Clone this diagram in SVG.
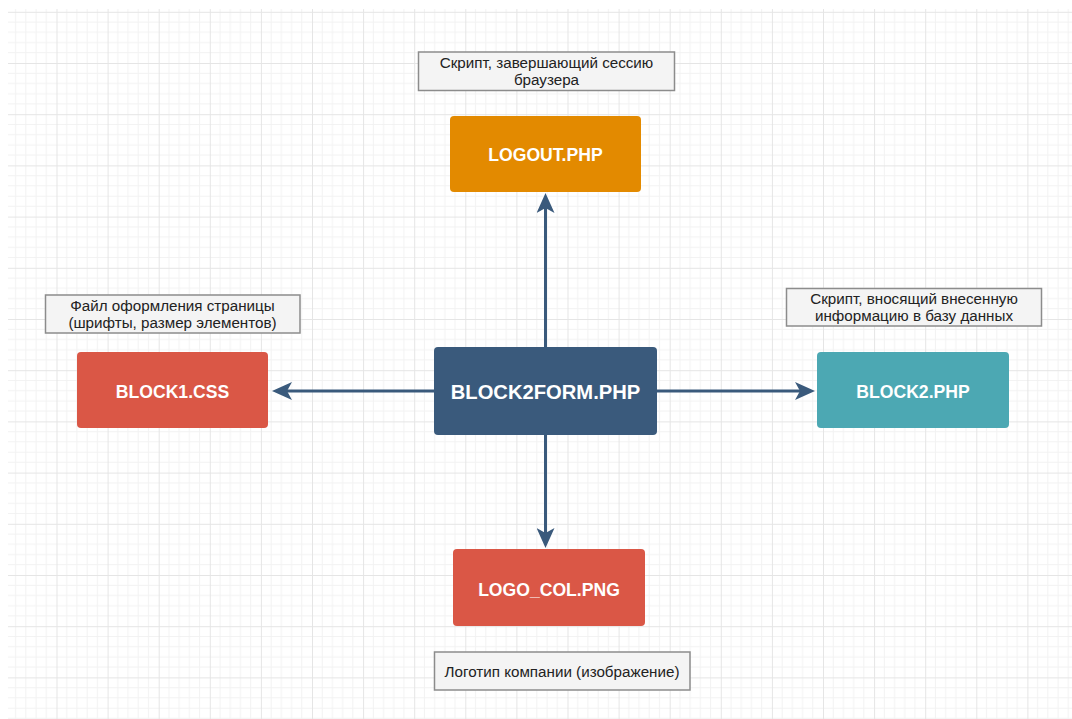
<svg xmlns="http://www.w3.org/2000/svg" width="1072" height="719" viewBox="0 0 1072 719">
  <style>
    .node rect { stroke: none; }
    .node text { font-family: "Liberation Sans", Arial, sans-serif; font-weight: bold; fill: #ffffff; text-anchor: middle; font-size: 17.6px; }
    .note rect { fill: #f4f4f4; stroke: #8c8c8c; stroke-width: 1.5; }
    .note text { font-family: "Liberation Sans", Arial, sans-serif; fill: #222222; text-anchor: middle; font-size: 15.2px; }
    .edge { stroke: #3a5a7c; stroke-width: 3; fill: none; marker-end: url(#arrow); }
  </style>
  <defs>
    <pattern id="grid" patternUnits="userSpaceOnUse" x="56.5" y="11.8" width="51.1" height="51.2">
      <g stroke="#f2f2f2" stroke-width="1">
        <path d="M10.22 0V51.2M20.44 0V51.2M30.66 0V51.2M40.88 0V51.2"/>
        <path d="M0 10.24H51.1M0 20.48H51.1M0 30.72H51.1M0 40.96H51.1"/>
      </g>
      <g stroke="#e5e5e5" stroke-width="1">
        <path d="M0.5 0V51.2M0 0.5H51.1"/>
      </g>
    </pattern>
    <marker id="arrow" viewBox="0 0 20 18" refX="10" refY="9" markerWidth="20" markerHeight="18" markerUnits="userSpaceOnUse" orient="auto">
      <path d="M0,0 L20,9 L0,18 L5,9 Z" fill="#3a5a7c"/>
    </marker>
  </defs>

  <rect width="1072" height="719" fill="#ffffff"/>
  <rect x="8" y="9" width="1064" height="710" fill="url(#grid)"/>

  <!-- connectors -->
  <g id="connectors">
    <line class="edge" x1="545.5" y1="347" x2="545.5" y2="203"/>
    <line class="edge" x1="434" y1="391" x2="282" y2="391"/>
    <line class="edge" x1="657" y1="391" x2="805" y2="391"/>
    <line class="edge" x1="545.5" y1="435" x2="545.5" y2="538"/>
  </g>

  <!-- central page -->
  <g id="block2form" class="node">
    <rect x="434" y="347" width="223" height="88" rx="4" fill="#3a5a7c"/>
    <text x="545.5" y="398.5" style="font-size:20.2px">BLOCK2FORM.PHP</text>
  </g>

  <g id="logout" class="node">
    <rect x="450" y="116" width="191" height="76" rx="4" fill="#e38a00"/>
    <text x="545.5" y="160.5">LOGOUT.PHP</text>
  </g>

  <g id="block1css" class="node">
    <rect x="77" y="352" width="191" height="76" rx="4" fill="#da5746"/>
    <text x="172.5" y="397.5">BLOCK1.CSS</text>
  </g>

  <g id="block2php" class="node">
    <rect x="817" y="352" width="192" height="76" rx="4" fill="#4ca8b3"/>
    <text x="913" y="397.5">BLOCK2.PHP</text>
  </g>

  <g id="logocol" class="node">
    <rect x="453" y="549" width="192" height="77" rx="4" fill="#da5746"/>
    <text x="549" y="595.5">LOGO_COL.PNG</text>
  </g>

  <!-- descriptions -->
  <g id="note-logout" class="note">
    <rect x="418.5" y="52" width="256" height="38.5"/>
    <text x="546.5" y="68">Скрипт, завершающий сессию</text>
    <text x="546.5" y="85">браузера</text>
  </g>

  <g id="note-block1css" class="note">
    <rect x="45.5" y="295" width="254.5" height="38"/>
    <text x="172.5" y="311">Файл оформления страницы</text>
    <text x="172.5" y="328">(шрифты, размер элементов)</text>
  </g>

  <g id="note-block2php" class="note">
    <rect x="786.5" y="288.5" width="255" height="37.5"/>
    <text x="914" y="304">Скрипт, вносящий внесенную</text>
    <text x="914" y="321">информацию в базу данных</text>
  </g>

  <g id="note-logocol" class="note">
    <rect x="434.5" y="652" width="255.5" height="38"/>
    <text x="562" y="677">Логотип компании (изображение)</text>
  </g>
</svg>
